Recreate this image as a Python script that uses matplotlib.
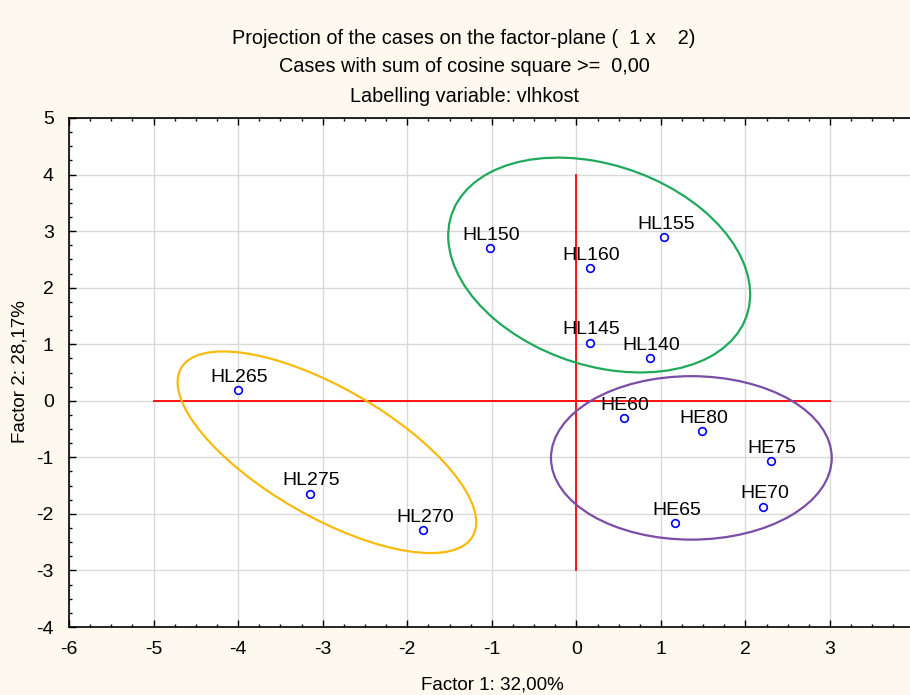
import matplotlib
matplotlib.use("Agg")
import matplotlib.pyplot as plt
from matplotlib.patches import Ellipse
from matplotlib.ticker import MultipleLocator, FixedLocator

plt.rcParams['font.family'] = ['Liberation Sans', 'DejaVu Sans']
plt.rcParams['axes.unicode_minus'] = False

labels = ["HL265", "HL275", "HL270", "HL150", "HL160", "HL155", "HL145", "HL140",
          "HE60", "HE80", "HE75", "HE70", "HE65"]
factor1 = [-4.00, -3.15, -1.81, -1.02, 0.16, 1.04, 0.16, 0.87,
           0.56, 1.49, 2.30, 2.21, 1.17]
factor2 = [0.19, -1.64, -2.28, 2.70, 2.35, 2.90, 1.03, 0.76,
           -0.30, -0.53, -1.06, -1.87, -2.16]
xticks = [-6, -5, -4, -3, -2, -1, 0, 1, 2, 3]
yticks = [-4, -3, -2, -1, 0, 1, 2, 3, 4, 5]

# cluster ellipses: (cx, cy, width, height, angle, colour)
ellipses = [
    (0.27, 2.40, 4.17, 3.13, -51.4, "#1FA95B"),
    (-2.95, -0.91, 4.62, 1.96, -45.4, "#F8BA0C"),
    (1.36, -1.01, 3.32, 2.89, 0.0, "#7B4DA6"),
]

bg = "#FEF9EE"
fig = plt.figure(figsize=(9.10, 6.95), dpi=100, facecolor=bg)
ax = fig.add_axes([69/910, 68/695, 845.6/910, 509/695])
ax.set_facecolor("white")
ax.set_xlim(-6, 4)
ax.set_ylim(-4, 5)

ax.xaxis.set_major_locator(FixedLocator(xticks))
ax.yaxis.set_major_locator(FixedLocator(yticks))
ax.xaxis.set_minor_locator(MultipleLocator(0.25))
ax.yaxis.set_minor_locator(MultipleLocator(0.25))
ax.grid(True, which="major", color="#DADADA", linewidth=1.0)
ax.set_axisbelow(True)
ax.tick_params(which="both", direction="in", top=True, right=False, labelsize=14,
               colors="black")
ax.tick_params(axis="x", pad=10)
ax.tick_params(axis="y", pad=11)
ax.tick_params(which="major", length=5, width=1)
ax.tick_params(which="minor", length=2.5, width=1)
ax.spines['right'].set_visible(False)
for s in ['left', 'bottom', 'top']:
    ax.spines[s].set_linewidth(1.2)

# reference axes
ax.plot([-5, 3], [0, 0], color="red", linewidth=1.3, zorder=2)
ax.plot([0, 0], [-3, 4], color="red", linewidth=1.3, zorder=2)

for cx, cy, w, h, ang, col in ellipses:
    ax.add_patch(Ellipse((cx, cy), w, h, angle=ang, fill=False, edgecolor=col,
                         linewidth=1.6, zorder=3))

ax.plot(factor1, factor2, linestyle="none", marker="o", markersize=5.5,
        markerfacecolor="white", markeredgecolor="blue", markeredgewidth=1.2, zorder=4)
for lab, x, y in zip(labels, factor1, factor2):
    ax.annotate(lab, (x, y), xytext=(1, 3), textcoords="offset points",
                ha="center", va="bottom", fontsize=14, zorder=5)

ax.set_xlabel("Factor 1: 32,00%", fontsize=13.5)
ax.set_ylabel("Factor 2: 28,17%", fontsize=13.5)
ax.xaxis.set_label_coords((492 - 69) / 845.6, -(685 - 627) / 509, transform=ax.transAxes)
ax.xaxis.label.set_va("center")
ax.yaxis.set_label_coords(-(69 - 20) / 845.6, (627 - 372) / 509, transform=ax.transAxes)
ax.yaxis.label.set_va("center")

fig.text(0.51, 1 - 38/695, "Projection of the cases on the factor-plane (  1 x    2)",
         ha="center", va="center", fontsize=14.3)
fig.text(0.51, 1 - 67/695, "Cases with sum of cosine square >=  0,00",
         ha="center", va="center", fontsize=14.3)
fig.text(0.51, 1 - 96/695, "Labelling variable: vlhkost",
         ha="center", va="center", fontsize=14.3)

fig.savefig("out.png", dpi=100, facecolor=bg)
